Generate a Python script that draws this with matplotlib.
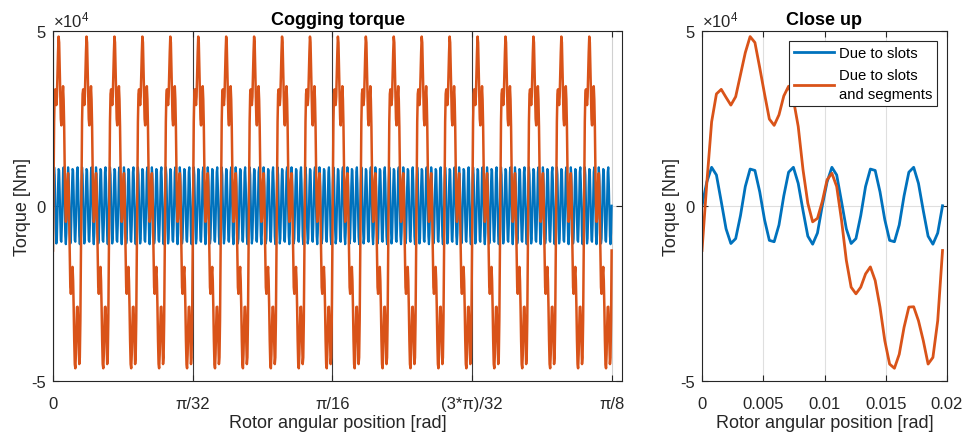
import numpy as np
import matplotlib
matplotlib.use("Agg")
import matplotlib.pyplot as plt

plt.rcParams['font.family'] = ['Liberation Sans', 'DejaVu Sans']
plt.rcParams['mathtext.fontset'] = 'custom'
plt.rcParams['mathtext.rm'] = 'Liberation Sans'
plt.rcParams['mathtext.it'] = 'Liberation Sans:italic'

# ---- data (torque in units of 1e4 Nm) ----
# one slot-ripple repetition (25 samples, step pi/8000 rad)
slots_period = [0.00, 0.68, 1.10, 0.88, 0.12, -0.66, -1.08, -0.94, -0.28, 0.55,
                1.05, 1.01, 0.40, -0.40, -0.99, -1.03, -0.55, 0.28, 0.96, 1.10,
                0.64, -0.14, -0.87, -1.10, -0.78]
# one segment repetition (50 samples, step pi/8000 rad)
segments_period = [-1.28, 0.65, 2.40, 3.20, 3.33, 3.10, 2.88, 3.12, 3.75, 4.38,
                   4.84, 4.67, 3.95, 3.20, 2.48, 2.30, 2.60, 3.14, 3.42, 3.04,
                   2.27, 1.03, 0.07, -0.46, -0.36, 0.12, 0.74, 0.93, 0.55, -0.41,
                   -1.56, -2.33, -2.52, -2.33, -1.95, -1.75, -2.14, -2.90, -3.86, -4.53,
                   -4.65, -4.25, -3.48, -2.90, -2.89, -3.29, -3.86, -4.53, -4.34, -3.29]
n_segment_periods = 20
scale = 1e4

x_ticks_main = [0, np.pi / 32, np.pi / 16, 3 * np.pi / 32, np.pi / 8]
x_ticklabels_main = ['0', 'π/32', 'π/16', '(3*π)/32', 'π/8']
x_ticks_zoom = [0, 0.005, 0.01, 0.015, 0.02]
x_ticklabels_zoom = ['0', '0.005', '0.01', '0.015', '0.02']
y_ticks = [-5e4, 0, 5e4]
y_ticklabels = ['-5', '0', '5']
legend_labels = ['Due to slots', 'Due to slots\nand segments']

# build the full series by repeating the read periods (as seen in the plot)
slots = np.array(slots_period * (2 * n_segment_periods) + [slots_period[0]]) * scale
segs = np.array(segments_period * n_segment_periods + [segments_period[0]]) * scale
theta = np.linspace(0, np.pi / 8, len(segs))
n_zoom = len(segments_period) + 1

blue = '#0072BD'
orange = '#D95319'
axc = '#262626'

fig = plt.figure(figsize=(9.63, 4.35), dpi=100)
ax1 = fig.add_axes([53 / 963, 1 - 381.5 / 435, (622 - 53) / 963, (381.5 - 32) / 435])
ax2 = fig.add_axes([702 / 963, 1 - 381.5 / 435, (947 - 702) / 963, (381.5 - 32) / 435])


def style(ax):
    for s in ax.spines.values():
        s.set_color(axc)
        s.set_linewidth(0.8)
    ax.tick_params(direction='in', length=4.5, width=0.8, colors=axc,
                   top=True, right=True, labelsize=12)
    ax.tick_params(axis='x', pad=11)
    ax.tick_params(axis='y', pad=5)
    ax.set_axisbelow(True)
    ax.set_ylim(-5e4, 5e4)
    ax.set_yticks(y_ticks)
    ax.set_yticklabels(y_ticklabels)
    ax.set_ylabel('Torque [Nm]', fontsize=13, color=axc, labelpad=0.5)
    ax.set_xlabel('Rotor angular position [rad]', fontsize=13, color=axc, labelpad=2.5)
    ax.text(0.0, 1.004, r'$\times\mathregular{10^{4}}$', transform=ax.transAxes,
            ha='left', va='bottom', fontsize=12, color=axc)


# main panel
ax1.plot(theta, slots, color=blue, lw=1.6)
ax1.plot(theta, segs, color=orange, lw=1.8)
ax1.set_xlim(0, 0.4)
ax1.set_xticks(x_ticks_main)
ax1.set_xticklabels(x_ticklabels_main)
style(ax1)
ax1.grid(True, axis='y', color='#dfdfdf', lw=0.8)
ax1.grid(True, axis='x', color='#3a3a3a', lw=0.8)
ax1.xaxis.get_gridlines()[-1].set_color('#d0d0d0')
ax1.set_title('Cogging torque', fontsize=13, fontweight='bold', color='black', pad=5)

# close-up panel
ax2.plot(theta[:n_zoom], slots[:n_zoom], color=blue, lw=2.0, label=legend_labels[0])
ax2.plot(theta[:n_zoom], segs[:n_zoom], color=orange, lw=2.0, label=legend_labels[1])
ax2.set_xlim(0, 0.02)
ax2.set_xticks(x_ticks_zoom)
ax2.set_xticklabels(x_ticklabels_zoom)
style(ax2)
ax2.grid(True, color='#dfdfdf', lw=0.8)
ax2.set_title('Close up', fontsize=13, fontweight='bold', color='black', pad=5)
leg = ax2.legend(loc='upper right', fontsize=10.7, handlelength=2.7, borderaxespad=0.65,
                 fancybox=False, framealpha=1, edgecolor=axc, labelspacing=0.55,
                 borderpad=0.35, handletextpad=0.3)
for t in leg.get_texts():
    t.set_linespacing(1.45)
leg.get_frame().set_linewidth(0.8)

fig.savefig('out.png', dpi=100)
